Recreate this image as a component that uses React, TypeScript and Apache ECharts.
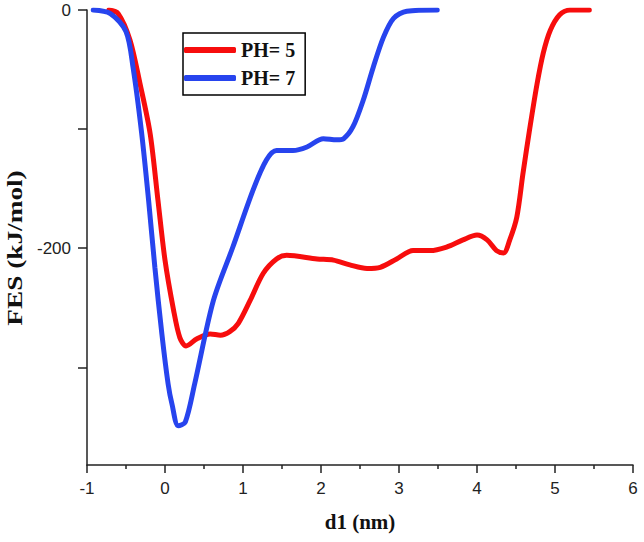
import React, { useEffect, useRef } from "react";
import * as echarts from "echarts";

const ph5X = [-0.72, -0.6, -0.45, -0.32, -0.19, -0.09, 0.0, 0.11, 0.19, 0.27, 0.41, 0.58, 0.71, 0.83, 0.94, 1.09, 1.26, 1.43, 1.56, 1.95, 2.16, 2.37, 2.59, 2.76, 2.97, 3.18, 3.4, 3.61, 3.82, 4.0, 4.13, 4.25, 4.34, 4.42, 4.51, 4.59, 4.68, 4.77, 4.85, 4.94, 5.06, 5.19, 5.44];
const ph5Y = [0, -3, -25, -62, -104, -160, -210, -252, -275, -282, -276, -272, -273, -270, -263, -244, -221, -209, -206, -209, -210, -214, -217, -216, -209, -202, -202, -199, -193, -189, -193, -202, -204, -193, -174, -137, -98, -62, -36, -17, -4, 0, 0];

const ph7X = [-0.92, -0.7, -0.5, -0.41, -0.30, -0.21, -0.13, -0.04, 0.04, 0.09, 0.17, 0.26, 0.38, 0.62, 0.87, 1.13, 1.30, 1.43, 1.64, 1.82, 2.03, 2.2, 2.29, 2.41, 2.54, 2.67, 2.80, 2.93, 3.10, 3.49];
const ph7Y = [0, -3, -18, -48, -103, -160, -216, -272, -314, -331, -349, -346, -314, -244, -199, -151, -126, -118, -118, -115, -108, -109, -108, -98, -76, -48, -23, -7, -1, 0];

const seriesNames = ["PH= 5", "PH= 7"];
const xTicks = [-1, 0, 1, 2, 3, 4, 5, 6];
const yTickValues = [0, -100, -200, -300];
const yLabelValues = [0, -200];
const xTitle = "d1 (nm)";
const yTitle = "FES (kJ/mol)";

const pairs = (xs: number[], ys: number[]) => xs.map((x, i) => [x, ys[i]]);

export default function App() {
  const ref = useRef<HTMLDivElement>(null);
  useEffect(() => {
    if (!ref.current) return;
    const chart = echarts.init(ref.current, null, { renderer: "svg" });
    chart.setOption({
      animation: false,
      backgroundColor: "#ffffff",
      grid: { left: 87, right: 11, top: 10, bottom: 77 },
      legend: {
        orient: "vertical",
        left: 183,
        top: 33,
        data: seriesNames,
        icon: "roundRect",
        itemWidth: 52,
        itemHeight: 6,
        itemGap: 8,
        borderColor: "#000",
        borderWidth: 1.5,
        borderRadius: 0,
        padding: [7, 10, 7, 1],
        textStyle: {
          fontFamily: "Liberation Serif",
          fontWeight: "bold",
          fontSize: 20,
          color: "#111",
        },
      },
      graphic: [
        {
          type: "text",
          x: 15,
          y: 248,
          rotation: Math.PI / 2,
          scaleX: 1.3,
          style: {
            text: yTitle,
            fontFamily: "Liberation Serif",
            fontWeight: "bold",
            fontSize: 21,
            fill: "#111",
            align: "center",
            verticalAlign: "middle",
          },
        },
      ],
      xAxis: {
        type: "value",
        min: xTicks[0],
        max: xTicks[xTicks.length - 1],
        interval: 1,
        name: xTitle,
        nameLocation: "middle",
        nameGap: 46,
        nameTextStyle: {
          fontFamily: "Liberation Serif",
          fontWeight: "bold",
          fontSize: 21,
          color: "#111",
        },
        axisLine: { show: true, onZero: false, lineStyle: { color: "#222", width: 1.5 } },
        axisTick: { show: true, length: 8, lineStyle: { color: "#222", width: 1.5 } },
        minorTick: { show: true, splitNumber: 2, length: 4, lineStyle: { color: "#222", width: 1.5 } },
        splitLine: { show: false },
        axisLabel: {
          fontFamily: "Liberation Sans",
          fontSize: 17,
          color: "#222",
          margin: 15,
        },
      },
      yAxis: {
        type: "value",
        min: -382,
        max: 0,
        axisLine: { show: true, onZero: false, lineStyle: { color: "#222", width: 1.5 } },
        axisTick: {
          show: true,
          length: 9,
          customValues: yTickValues,
          lineStyle: { color: "#222", width: 1.5 },
        },
        splitLine: { show: false },
        axisLabel: {
          customValues: yLabelValues,
          fontFamily: "Liberation Sans",
          fontSize: 17,
          color: "#222",
          margin: 16,
        },
      },
      series: [
        {
          name: seriesNames[0],
          type: "line",
          data: pairs(ph5X, ph5Y),
          smooth: 0.3,
          showSymbol: false,
          symbol: "none",
          color: "#f70d0d",
          lineStyle: { width: 5, color: "#f70d0d", cap: "round" },
        },
        {
          name: seriesNames[1],
          type: "line",
          data: pairs(ph7X, ph7Y),
          smooth: 0.3,
          showSymbol: false,
          symbol: "none",
          color: "#2744ee",
          lineStyle: { width: 5, color: "#2744ee", cap: "round" },
        },
      ],
    });
    return () => chart.dispose();
  }, []);
  return (
    <div
      ref={ref}
      style={{ position: "fixed", left: 0, top: 0, width: 644, height: 542 }}
    />
  );
}
